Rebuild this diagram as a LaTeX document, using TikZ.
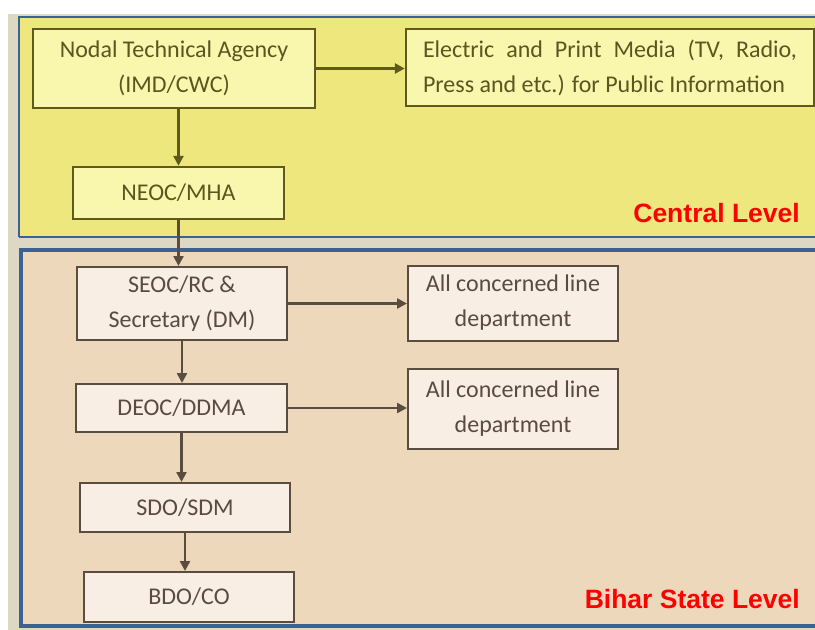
\documentclass[tikz,border=0pt]{standalone}
\usepackage{fontspec}
\setmainfont{Carlito}
\newfontfamily\arialfont{Liberation Sans}
\usetikzlibrary{arrows.meta}
\definecolor{pagebg}{HTML}{DCD8C3}
\definecolor{yelpanel}{HTML}{EDE77E}
\definecolor{tanpanel}{HTML}{EDD8BC}
\definecolor{panelblue}{HTML}{3C6293}
\definecolor{ybox}{HTML}{F9F6AE}
\definecolor{yborder}{HTML}{5F5A1C}
\definecolor{ytext}{HTML}{5A5620}
\definecolor{sbox}{HTML}{F8EEE4}
\definecolor{sborder}{HTML}{5B4C40}
\definecolor{stext}{HTML}{5A4A42}
\definecolor{lvlred}{HTML}{FF0000}
\tikzset{
  boxfont/.style={font=\fontsize{24}{35}\selectfont},
  ynode/.style={draw=yborder, line width=2.4pt, fill=ybox, text=ytext, boxfont, align=center, inner sep=0pt},
  snode/.style={draw=sborder, line width=2pt, fill=sbox, text=stext, boxfont, align=center, inner sep=0pt},
  yarrow/.style={draw=yborder, line width=2.8pt, -{Triangle[length=10pt,width=10pt]}},
  sarrow/.style={draw=sborder, line width=2.4pt, -{Triangle[length=10pt,width=10pt]}},
  lvl/.style={text=lvlred, font=\arialfont\bfseries\fontsize{26.5}{30}\selectfont, anchor=east, inner sep=0pt}
}
\begin{document}
\begin{tikzpicture}[x=1pt,y=-1pt]
\useasboundingbox (0,0) rectangle (815,630);
\fill[white] (0,0) rectangle (815,630);
\fill[pagebg] (8,14) rectangle (815,630);
% central panel
\fill[yelpanel] (19,17) rectangle (815,237);
\draw[panelblue, line width=1.2pt] (19,237) -- (19,17) -- (815,17);
\draw[panelblue, line width=1.2pt] (19,237) -- (815,237);
% state panel
\fill[tanpanel] (21,250) rectangle (815,626);
\draw[panelblue, line width=3.5pt] (815,250) -- (21,250) -- (21,626) -- (815,626);
% central nodes
\node[ynode, minimum width=282pt, minimum height=79pt] (nta) at (174,68.5) {Nodal Technical Agency\\(IMD/CWC)};
\node[ynode, minimum width=408pt, minimum height=77pt] (media) at (610,67.5) {};
\node[text=ytext, boxfont, text width=374pt, align=justify, inner sep=0pt] (mediatext) at (media.center) {Electric and Print Media (TV, Radio,\linebreak Press and etc.) for Public Information};
\node[ynode, minimum width=211pt, minimum height=52pt] (neoc) at (178.5,193) {NEOC/MHA};
\node[lvl] (central) at (800,213) {Central Level};
% state nodes
\node[snode, minimum width=210pt, minimum height=73pt] (seoc) at (182,303.5) {SEOC/RC \&\\Secretary (DM)};
\node[snode, minimum width=210pt, minimum height=75pt] (line1) at (513,303) {All concerned line\\department};
\node[snode, minimum width=211pt, minimum height=48pt] (deoc) at (181.5,408) {DEOC/DDMA};
\node[snode, minimum width=210pt, minimum height=80pt] (line2) at (513,409) {All concerned line\\department};
\node[snode, minimum width=210pt, minimum height=49pt] (sdo) at (185,507.5) {SDO/SDM};
\node[snode, minimum width=210pt, minimum height=50pt] (bdo) at (189,597) {BDO/CO};
\node[lvl] (bihar) at (800,599) {Bihar State Level};
% connectors
\draw[yarrow] (nta.east) -- (media.west |- nta.east);
\draw[yarrow] (nta.south -| neoc.north) -- (neoc.north);
\draw[sarrow] (neoc.south) -- (seoc.north -| neoc.south);
\draw[sarrow] (seoc.east) -- (line1.west |- seoc.east);
\draw[sarrow] (seoc.south) -- (seoc.south |- deoc.north);
\draw[sarrow] (deoc.east) -- (line2.west |- deoc.east);
\draw[sarrow] (deoc.south) -- (deoc.south |- sdo.north);
\draw[sarrow] (sdo.south) -- (sdo.south |- bdo.north);
\end{tikzpicture}
\end{document}
